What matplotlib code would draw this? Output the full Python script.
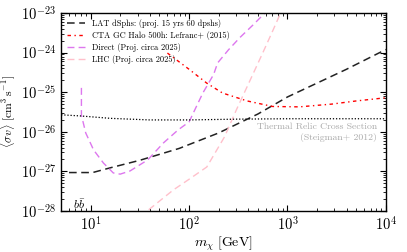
import matplotlib
matplotlib.use('Agg')
import matplotlib.pyplot as plt
import numpy as np

plt.rcParams['font.family'] = 'serif'
plt.rcParams['font.serif'] = ['cmr10', 'DejaVu Serif']
plt.rcParams['mathtext.fontset'] = 'cm'
plt.rcParams['axes.unicode_minus'] = False
plt.rcParams['axes.formatter.use_mathtext'] = True

# log10 of mass [GeV] and log10 of <sigma v> [cm^3 s^-1]
lat_m = [0.78, 1.02, 1.2, 1.5, 1.9, 2.3, 2.7, 3.0, 3.3, 3.6, 4.0]
lat_sv = [-27.03, -27.03, -26.91, -26.72, -26.42, -26.03, -25.55, -25.12, -24.77, -24.42, -23.92]

cta_m = [1.78, 2.0, 2.18, 2.34, 2.59, 2.85, 3.12, 3.45, 3.7, 3.96, 4.0]
cta_sv = [-24.01, -24.42, -24.77, -25.02, -25.22, -25.36, -25.37, -25.30, -25.22, -25.15, -25.14]

direct_m = [0.906, 0.906, 0.95, 1.03, 1.13, 1.23, 1.30, 1.40, 1.58, 1.74, 1.89, 2.0, 2.14, 2.25, 2.29, 2.40, 2.52, 2.65, 2.77]
direct_sv = [-24.89, -25.58, -26.03, -26.46, -26.79, -27.04, -27.07, -26.99, -26.71, -26.28, -25.95, -25.75, -25.02, -24.55, -24.26, -23.93, -23.61, -23.30, -23.0]

lhc_m = [1.59, 1.84, 2.0, 2.18, 2.36, 2.48, 2.62, 2.75, 2.85, 2.93]
lhc_sv = [-27.97, -27.47, -27.2, -26.89, -26.13, -25.45, -24.70, -24.00, -23.45, -23.0]

relic_m = [0.7, 0.9, 1.2, 1.6, 2.0, 2.5, 3.0, 3.5, 4.0]
relic_sv = [-25.57, -25.60, -25.66, -25.70, -25.70, -25.68, -25.67, -25.67, -25.67]

labels = ['LAT dSphs: (proj. 15 yrs 60 dpshs)',
          'CTA GC Halo 500h: Lefranc+ (2015)',
          'Direct (Proj. circa 2025)',
          'LHC (Proj. circa 2025)']


def p(a):
    return 10.0 ** np.array(a)


fig = plt.figure(figsize=(4.07, 2.52), dpi=100)
ax = fig.add_axes([0.150, 0.163, 0.798, 0.785])

ax.plot(p(lat_m), p(lat_sv), color='#222222', ls=(0, (5, 3)), lw=1.1, label=labels[0])
ax.plot(p(cta_m), p(cta_sv), color='red', ls=(0, (2.5, 2.5, 1, 2.5)), lw=1.0, label=labels[1])
ax.plot(p(direct_m), p(direct_sv), color='#dd77ee', ls=(0, (5, 3)), lw=1.0, label=labels[2])
ax.plot(p(lhc_m), p(lhc_sv), color='#ffc0cb', ls=(0, (5, 3)), lw=1.0, label=labels[3])
ax.plot(p(relic_m), p(relic_sv), color='black', ls=(0, (1, 1.5)), lw=0.9)

ax.set_xscale('log')
ax.set_yscale('log')
ax.set_xlim(5, 1e4)
ax.set_ylim(1e-28, 1e-23)

ax.text(8.2e3, 1.3e-26, 'Thermal Relic Cross Section', color='#aaaaaa',
        fontsize=7, ha='right', va='center')
ax.text(8.2e3, 7.2e-27, '(Steigman+ 2012)', color='#aaaaaa',
        fontsize=7, ha='right', va='center')
ax.text(6.6, 1.5e-28, r'$b\bar{b}$', fontsize=8.5, ha='left', va='center')

ax.set_xlabel(r'$m_\chi\ [\mathrm{GeV}]$', fontsize=10, labelpad=1)
ax.set_ylabel(r'$\langle\sigma v\rangle\ [\mathrm{cm}^3\,\mathrm{s}^{-1}]$', fontsize=8.5, labelpad=3)

ax.tick_params(which='both', direction='in', top=True, right=True, labelsize=10.5)
ax.tick_params(which='major', length=4, width=0.8)
ax.tick_params(which='minor', length=2, width=0.6)
ax.yaxis.set_minor_locator(matplotlib.ticker.LogLocator(base=10, subs=np.arange(2, 10), numticks=20))
ax.yaxis.set_minor_formatter(matplotlib.ticker.NullFormatter())
for s in ax.spines.values():
    s.set_linewidth(1.0)

ax.legend(loc='upper left', frameon=False, fontsize=6, handlelength=2.2,
          handletextpad=0.8, labelspacing=0.35, borderaxespad=0.3)

fig.savefig('out.png', dpi=100)
